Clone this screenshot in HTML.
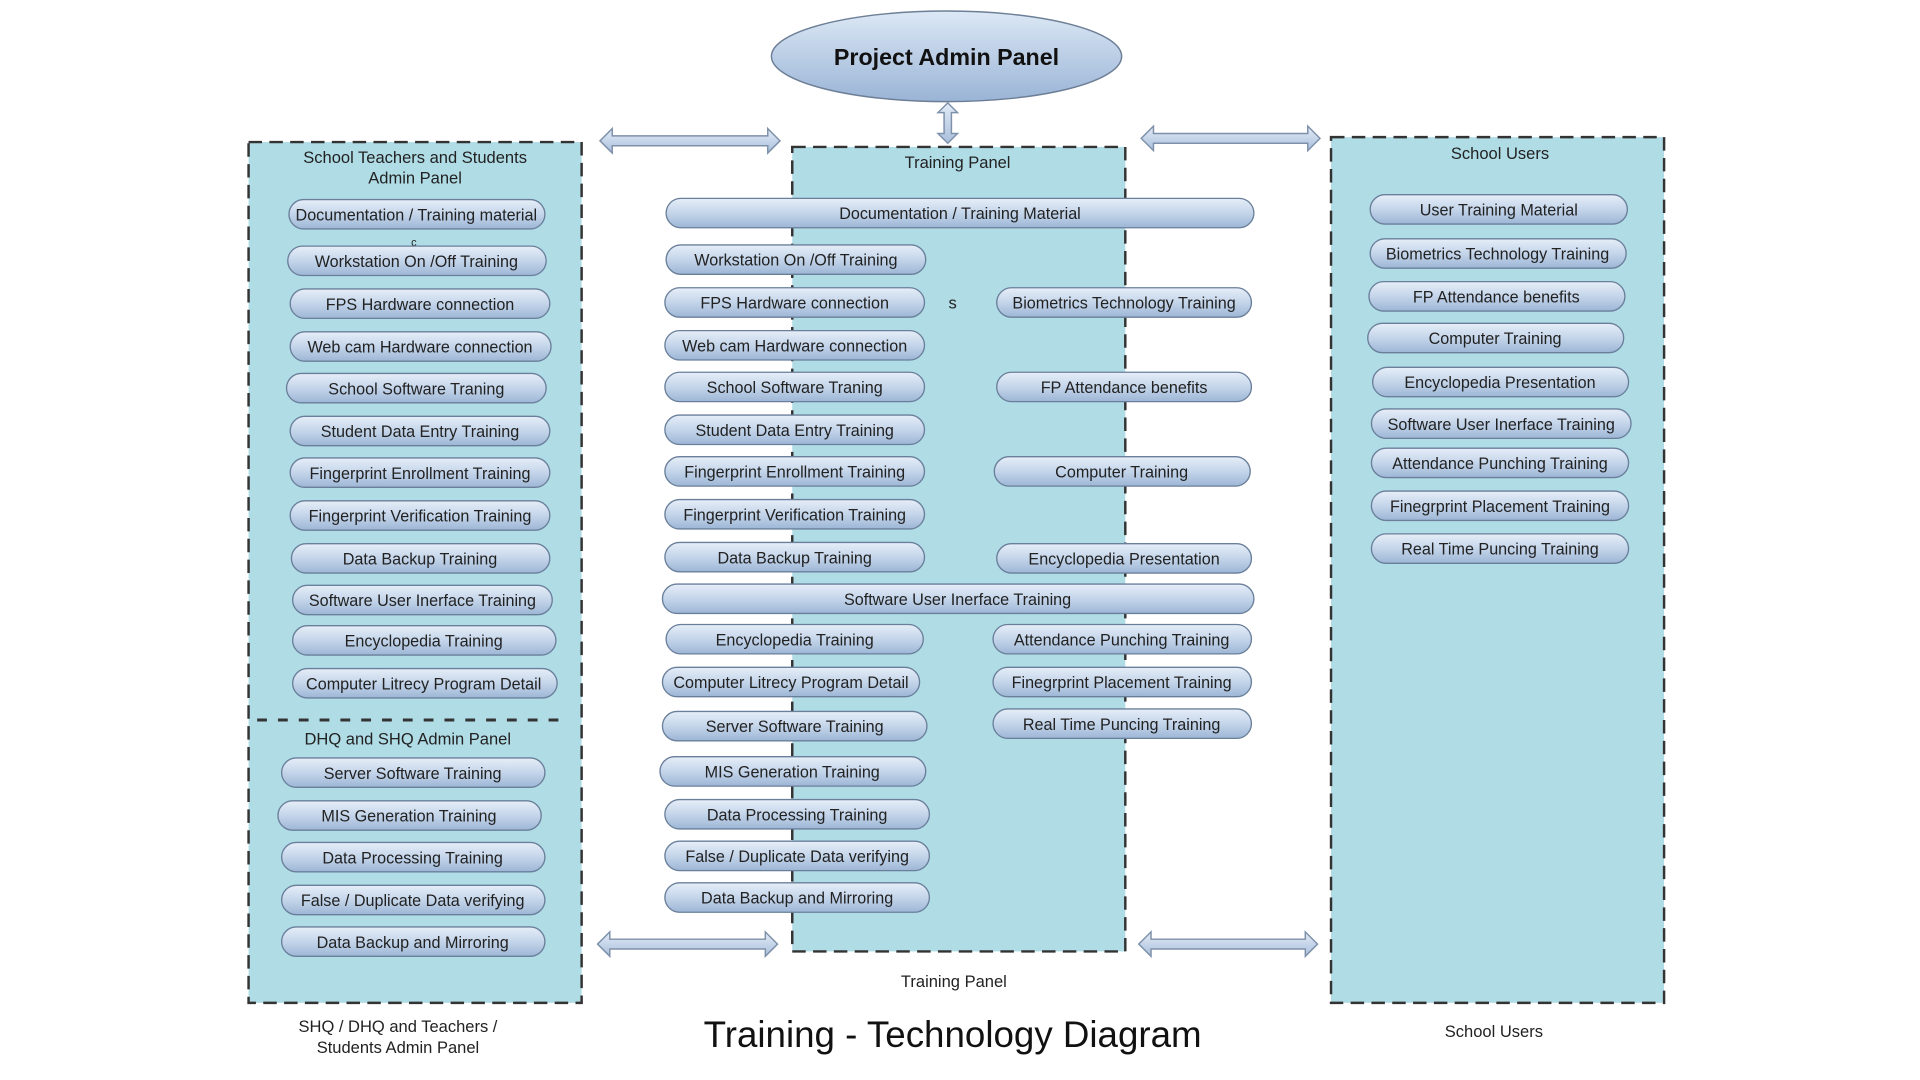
<!DOCTYPE html>
<html><head><meta charset="utf-8"><style>html,body{margin:0;padding:0;background:#fff}svg{display:block}</style></head>
<body>
<svg width="1920" height="1080" viewBox="0 0 1568 882" preserveAspectRatio="none" xmlns="http://www.w3.org/2000/svg" font-family="Liberation Sans, Arial, sans-serif">
<defs>
<linearGradient id="pg" x1="0" y1="0" x2="0" y2="1"><stop offset="0" stop-color="#e6eef8"/><stop offset="0.5" stop-color="#c4d5ea"/><stop offset="1" stop-color="#9db6d6"/></linearGradient>
<linearGradient id="eg" x1="0" y1="0" x2="0" y2="1"><stop offset="0" stop-color="#dce8f5"/><stop offset="1" stop-color="#9ab4d6"/></linearGradient>
<linearGradient id="ag" x1="0" y1="0" x2="0" y2="1"><stop offset="0" stop-color="#e3ecf7"/><stop offset="1" stop-color="#a9bfdc"/></linearGradient>
</defs>
<rect width="1568" height="882" fill="#fff"/>
<!-- boxes -->
<g fill="#b0dce6" stroke="#333" stroke-width="2" stroke-dasharray="11 6">
<rect x="203" y="116" width="272" height="703"/>
<rect x="647" y="120" width="272" height="657"/>
<rect x="1087" y="112" width="272" height="707"/>
</g>
<line x1="210" y1="588" x2="456" y2="588" stroke="#333" stroke-width="2.5" stroke-dasharray="8 9"/>
<!-- ellipse -->
<ellipse cx="773" cy="46" rx="143" ry="37" fill="url(#eg)" stroke="#6d7f96" stroke-width="1.2"/>
<text x="773" y="53" font-size="19" font-weight="bold" text-anchor="middle" fill="#111">Project Admin Panel</text>
<!-- arrows -->
<g fill="url(#ag)" stroke="#7f91aa" stroke-width="1.2">
<path d="M490 115 L500 105 L500 111 L627 111 L627 105 L637 115 L627 125 L627 119 L500 119 L500 125 Z"/>
<path d="M932 113 L942 103 L942 109 L1068 109 L1068 103 L1078 113 L1068 123 L1068 117 L942 117 L942 123 Z"/>
<path d="M488 771 L498 761 L498 767 L625 767 L625 761 L635 771 L625 781 L625 775 L498 775 L498 781 Z"/>
<path d="M930 771 L940 761 L940 767 L1066 767 L1066 761 L1076 771 L1066 781 L1066 775 L940 775 L940 781 Z"/>
<path d="M774 84 L782 92 L777 92 L777 109 L782 109 L774 117 L766 109 L771 109 L771 92 L766 92 Z"/>
</g>
<!-- labels -->
<g font-size="13.5" fill="#222" text-anchor="middle">
<text x="339" y="133">School Teachers and Students</text>
<text x="339" y="150">Admin Panel</text>
<text x="782" y="137">Training Panel</text>
<text x="1225" y="130">School Users</text>
<text x="333" y="608">DHQ and SHQ Admin Panel</text>
<text x="779" y="806">Training Panel</text>
<text x="325" y="843">SHQ / DHQ and Teachers /</text>
<text x="325" y="860">Students Admin Panel</text>
<text x="1220" y="847">School Users</text>
<text x="778" y="252">s</text>
<text x="338" y="201" font-size="9">c</text>
</g>
<text x="778" y="855" font-size="30" text-anchor="middle" fill="#111">Training - Technology Diagram</text>
<!-- pills -->
<g id="pills" font-size="13.2" fill="#222" text-anchor="middle">
<g stroke="#6a7f9a" stroke-width="1.1" fill="url(#pg)">
<rect x="236" y="163" width="209" height="24" rx="12"/>
<rect x="235" y="201" width="211" height="24" rx="12"/>
<rect x="237" y="236" width="212" height="24" rx="12"/>
<rect x="237" y="271" width="213" height="24" rx="12"/>
<rect x="234" y="305" width="212" height="24" rx="12"/>
<rect x="237" y="340" width="212" height="24" rx="12"/>
<rect x="237" y="374" width="212" height="24" rx="12"/>
<rect x="237" y="409" width="212" height="24" rx="12"/>
<rect x="238" y="444" width="211" height="24" rx="12"/>
<rect x="239" y="478" width="212" height="24" rx="12"/>
<rect x="239" y="511" width="215" height="24" rx="12"/>
<rect x="239" y="546" width="216" height="24" rx="12"/>
<rect x="230" y="619" width="215" height="24" rx="12"/>
<rect x="227" y="654" width="215" height="24" rx="12"/>
<rect x="230" y="688" width="215" height="24" rx="12"/>
<rect x="230" y="723" width="215" height="24" rx="12"/>
<rect x="230" y="757" width="215" height="24" rx="12"/>

<rect x="544" y="162" width="480" height="24" rx="12"/>
<rect x="544" y="200" width="212" height="24" rx="12"/>
<rect x="543" y="235" width="212" height="24" rx="12"/>
<rect x="543" y="270" width="212" height="24" rx="12"/>
<rect x="543" y="304" width="212" height="24" rx="12"/>
<rect x="543" y="339" width="212" height="24" rx="12"/>
<rect x="543" y="373" width="212" height="24" rx="12"/>
<rect x="543" y="408" width="212" height="24" rx="12"/>
<rect x="543" y="443" width="212" height="24" rx="12"/>
<rect x="541" y="477" width="483" height="24" rx="12"/>
<rect x="544" y="510" width="210" height="24" rx="12"/>
<rect x="541" y="545" width="210" height="24" rx="12"/>
<rect x="541" y="581" width="216" height="24" rx="12"/>
<rect x="539" y="618" width="217" height="24" rx="12"/>
<rect x="543" y="653" width="216" height="24" rx="12"/>
<rect x="543" y="687" width="216" height="24" rx="12"/>
<rect x="543" y="721" width="216" height="24" rx="12"/>

<rect x="814" y="235" width="208" height="24" rx="12"/>
<rect x="814" y="304" width="208" height="24" rx="12"/>
<rect x="812" y="373" width="209" height="24" rx="12"/>
<rect x="814" y="444" width="208" height="24" rx="12"/>
<rect x="811" y="510" width="211" height="24" rx="12"/>
<rect x="811" y="545" width="211" height="24" rx="12"/>
<rect x="811" y="579" width="211" height="24" rx="12"/>

<rect x="1119" y="159" width="210" height="24" rx="12"/>
<rect x="1119" y="195" width="209" height="24" rx="12"/>
<rect x="1118" y="230" width="209" height="24" rx="12"/>
<rect x="1117" y="264" width="209" height="24" rx="12"/>
<rect x="1121" y="300" width="209" height="24" rx="12"/>
<rect x="1120" y="334" width="212" height="24" rx="12"/>
<rect x="1120" y="366" width="210" height="24" rx="12"/>
<rect x="1120" y="401" width="210" height="24" rx="12"/>
<rect x="1120" y="436" width="210" height="24" rx="12"/>
</g>
<text x="340" y="180">Documentation / Training material</text>
<text x="340" y="218">Workstation On /Off Training</text>
<text x="343" y="253">FPS Hardware connection</text>
<text x="343" y="288">Web cam Hardware connection</text>
<text x="340" y="322">School Software Traning</text>
<text x="343" y="357">Student Data Entry Training</text>
<text x="343" y="391">Fingerprint Enrollment Training</text>
<text x="343" y="426">Fingerprint Verification Training</text>
<text x="343" y="461">Data Backup Training</text>
<text x="345" y="495">Software User Inerface Training</text>
<text x="346" y="528">Encyclopedia Training</text>
<text x="346" y="563">Computer Litrecy Program Detail</text>
<text x="337" y="636">Server Software Training</text>
<text x="334" y="671">MIS Generation Training</text>
<text x="337" y="705">Data Processing Training</text>
<text x="337" y="740">False / Duplicate Data verifying</text>
<text x="337" y="774">Data Backup and Mirroring</text>

<text x="784" y="179">Documentation / Training Material</text>
<text x="650" y="217">Workstation On /Off Training</text>
<text x="649" y="252">FPS Hardware connection</text>
<text x="649" y="287">Web cam Hardware connection</text>
<text x="649" y="321">School Software Traning</text>
<text x="649" y="356">Student Data Entry Training</text>
<text x="649" y="390">Fingerprint Enrollment Training</text>
<text x="649" y="425">Fingerprint Verification Training</text>
<text x="649" y="460">Data Backup Training</text>
<text x="782" y="494">Software User Inerface Training</text>
<text x="649" y="527">Encyclopedia Training</text>
<text x="646" y="562">Computer Litrecy Program Detail</text>
<text x="649" y="598">Server Software Training</text>
<text x="647" y="635">MIS Generation Training</text>
<text x="651" y="670">Data Processing Training</text>
<text x="651" y="704">False / Duplicate Data verifying</text>
<text x="651" y="738">Data Backup and Mirroring</text>

<text x="918" y="252">Biometrics Technology Training</text>
<text x="918" y="321">FP Attendance benefits</text>
<text x="916" y="390">Computer Training</text>
<text x="918" y="461">Encyclopedia Presentation</text>
<text x="916" y="527">Attendance Punching Training</text>
<text x="916" y="562">Finegrprint Placement Training</text>
<text x="916" y="596">Real Time Puncing Training</text>

<text x="1224" y="176">User Training Material</text>
<text x="1223" y="212">Biometrics Technology Training</text>
<text x="1222" y="247">FP Attendance benefits</text>
<text x="1221" y="281">Computer Training</text>
<text x="1225" y="317">Encyclopedia Presentation</text>
<text x="1226" y="351">Software User Inerface Training</text>
<text x="1225" y="383">Attendance Punching Training</text>
<text x="1225" y="418">Finegrprint Placement Training</text>
<text x="1225" y="453">Real Time Puncing Training</text>
</g>
</svg>
</body></html>
